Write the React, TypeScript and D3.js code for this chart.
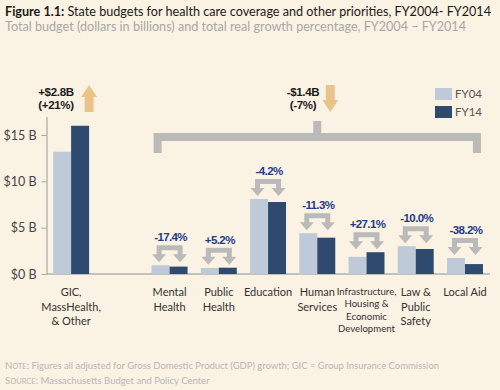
import React, { useEffect, useRef } from 'react';
import * as d3 from 'd3';

const categories = [
  'GIC, MassHealth, & Other',
  'Mental Health',
  'Public Health',
  'Education',
  'Human Services',
  'Infrastructure, Housing & Economic Development',
  'Law & Public Safety',
  'Local Aid',
];
const categoryLines = [
  ['GIC,', 'MassHealth,', '& Other'],
  ['Mental', 'Health'],
  ['Public', 'Health'],
  ['Education'],
  ['Human', 'Services'],
  ['Infrastructure,', 'Housing &', 'Economic', 'Development'],
  ['Law &', 'Public', 'Safety'],
  ['Local Aid'],
];
const series = ['FY04', 'FY14'];
const fy04 = [13.2, 0.95, 0.65, 8.1, 4.4, 1.85, 3.0, 1.73];
const fy14 = [16.0, 0.8, 0.68, 7.77, 3.92, 2.35, 2.7, 1.07];
const growthLabels = ['', '-17.4%', '+5.2%', '-4.2%', '-11.3%', '+27.1%', '-10.0%', '-38.2%'];
const yTicks = [0, 5, 10, 15];
const healthNote = ['+$2.8B', '(+21%)'];
const otherNote = ['-$1.4B', '(-7%)'];

const SPACER = '__gap';

export default function App() {
  const ref = useRef<SVGSVGElement>(null);

  useEffect(() => {
    draw();
  // eslint-disable-next-line react-hooks/exhaustive-deps
  }, []);

  function draw() {
    const svg = d3.select(ref.current);
    svg.selectAll('*').remove();

    const width = 500;
    const height = 390;
    const font = 'Lato, "Open Sans", sans-serif';
    const boldFont = '"Liberation Sans", Arial, sans-serif';
    const c04 = '#bfcad8';
    const c14 = '#2e4a6f';
    const tan = '#eac38a';
    const grey = '#bababa';

    svg.append('rect').attr('width', width).attr('height', height).attr('fill', '#faf2e3');

    const domain = [categories[0], SPACER, ...categories.slice(1)];
    const x = d3.scaleBand()
      .domain(domain)
      .range([46.5, 489.6])
      .paddingInner(0.27)
      .paddingOuter(0.135);
    const x1 = d3.scaleBand().domain(series).range([0, x.bandwidth()]);
    const y = d3.scaleLinear().domain([0, 17]).range([274, 116.5]);
    const cx = (c: string) => x(c)! + x.bandwidth() / 2;

    // title
    const title = svg.append('text')
      .attr('x', 5).attr('y', 16)
      .attr('font-family', font).attr('font-size', 12.6).attr('fill', '#1a1a1a')
      .attr('textLength', 486).attr('lengthAdjust', 'spacingAndGlyphs');
    title.append('tspan').attr('font-weight', 700).text('Figure 1.1:');
    title.append('tspan').text(' State budgets for health care coverage and other priorities, FY2004- FY2014');

    svg.append('text')
      .attr('x', 5).attr('y', 31)
      .attr('font-family', font).attr('font-size', 13).attr('fill', '#a8a8a8')
      .attr('textLength', 461).attr('lengthAdjust', 'spacingAndGlyphs')
      .text('Total budget (dollars in billions) and total real growth percentage, FY2004 \u2013 FY2014');

    // y axis
    const yAxis = svg.append('g')
      .attr('transform', 'translate(46.5,0)')
      .call(d3.axisLeft(y).tickValues(yTicks).tickSize(5).tickSizeOuter(0).tickPadding(5)
        .tickFormat((d) => `$${d} B`));
    yAxis.select('.domain').attr('stroke', '#a9a9a9').attr('stroke-width', 1.2);
    yAxis.selectAll('.tick line').attr('stroke', '#a9a9a9');
    yAxis.selectAll('.tick text')
      .attr('font-family', font).attr('font-size', 12.5).attr('fill', '#444');

    // baseline
    svg.append('line')
      .attr('x1', 46.5).attr('x2', 490)
      .attr('y1', y(0)).attr('y2', y(0))
      .attr('stroke', '#b0b0b0').attr('stroke-width', 1.5);

    // bars
    const rows = categories.map((c, i) => ({ c, values: [fy04[i], fy14[i]] }));
    const groups = svg.selectAll('.barGroup')
      .data(rows)
      .enter()
      .append('g')
      .attr('class', 'barGroup')
      .attr('transform', (d) => `translate(${x(d.c)},0)`);
    groups.selectAll('rect')
      .data((d) => d.values.map((v, j) => ({ s: series[j], v })))
      .enter()
      .append('rect')
      .attr('x', (d) => x1(d.s)!)
      .attr('width', x1.bandwidth())
      .attr('y', (d) => y(d.v))
      .attr('height', (d) => y(0) - y(d.v))
      .attr('fill', (d) => (d.s === 'FY04' ? c04 : c14));

    // growth arrows and labels
    rows.forEach((d, i) => {
      if (!growthLabels[i]) return;
      const m = cx(d.c);
      const y0 = y(Math.max(d.values[0], d.values[1])) - 20;
      const dx = 10.5;
      const p = d3.path();
      p.moveTo(m - dx - 2.5, y0 + 9);
      p.lineTo(m - dx - 2.5, y0);
      p.lineTo(m + dx + 2.5, y0);
      p.lineTo(m + dx + 2.5, y0 + 9);
      p.lineTo(m + dx + 7, y0 + 9);
      p.lineTo(m + dx, y0 + 17);
      p.lineTo(m + dx - 7, y0 + 9);
      p.lineTo(m + dx - 2.5, y0 + 9);
      p.lineTo(m + dx - 2.5, y0 + 5);
      p.lineTo(m - dx + 2.5, y0 + 5);
      p.lineTo(m - dx + 2.5, y0 + 9);
      p.lineTo(m - dx + 7, y0 + 9);
      p.lineTo(m - dx, y0 + 17);
      p.lineTo(m - dx - 7, y0 + 9);
      p.closePath();
      svg.append('path').attr('d', p.toString()).attr('fill', grey);
      svg.append('text')
        .attr('x', m + 1).attr('y', y0 - 4)
        .attr('text-anchor', 'middle')
        .attr('font-family', boldFont).attr('font-weight', 700).attr('font-size', 11.5)
        .attr('letter-spacing', -0.6).attr('fill', '#1f3b8a')
        .text(growthLabels[i]);
    });

    // category labels
    rows.forEach((d, i) => {
      const lines = categoryLines[i];
      const small = lines.length > 3;
      const lh = small ? 12.4 : 14.5;
      const t = svg.append('text')
        .attr('text-anchor', 'middle')
        .attr('font-family', font).attr('font-size', small ? 9.6 : 11)
        .attr('fill', '#333');
      lines.forEach((ln, k) => {
        t.append('tspan').attr('x', cx(d.c)).attr('y', (small ? 295 : 296) + k * lh).text(ln);
      });
    });

    // bracket over the other priorities
    const left = x(categories[1])! + 6;
    const right = x(categories[categories.length - 1])! + x.bandwidth() - 6;
    const by = y(14.8);
    const mid = (left + right) / 2;
    svg.append('path')
      .attr('d', `M${left},${by + 16}V${by}H${right}V${by + 16}M${mid},${by}V${by - 16}`)
      .attr('fill', 'none').attr('stroke', grey).attr('stroke-width', 8);

    // total change arrows
    const upX = x(categories[0])! + x.bandwidth();
    const up = d3.path();
    up.moveTo(upX - 4.5, 112); up.lineTo(upX - 4.5, 97); up.lineTo(upX - 8, 97);
    up.lineTo(upX, 85); up.lineTo(upX + 8, 97); up.lineTo(upX + 4.5, 97); up.lineTo(upX + 4.5, 112);
    up.closePath();
    svg.append('path').attr('d', up.toString()).attr('fill', tan);

    const dnX = mid + 13;
    const dn = d3.path();
    dn.moveTo(dnX - 4.5, 85); dn.lineTo(dnX - 4.5, 100); dn.lineTo(dnX - 8, 100);
    dn.lineTo(dnX, 112); dn.lineTo(dnX + 8, 100); dn.lineTo(dnX + 4.5, 100); dn.lineTo(dnX + 4.5, 85);
    dn.closePath();
    svg.append('path').attr('d', dn.toString()).attr('fill', tan);

    const note = (lines: string[], nx: number) => {
      const t = svg.append('text')
        .attr('text-anchor', 'middle')
        .attr('font-family', boldFont).attr('font-weight', 700).attr('font-size', 11.5)
        .attr('letter-spacing', -0.3).attr('fill', '#1a1a1a');
      lines.forEach((ln, k) => t.append('tspan').attr('x', nx).attr('y', 96 + k * 13).text(ln));
    };
    note(healthNote, 56);
    note(otherNote, 303);

    // legend
    const lg = svg.append('g').attr('transform', 'translate(435,88)');
    series.forEach((s, i) => {
      lg.append('rect').attr('x', 0).attr('y', i * 18).attr('width', 17).attr('height', 12)
        .attr('fill', i === 0 ? c04 : c14);
      lg.append('text').attr('x', 20).attr('y', i * 18 + 10)
        .attr('font-family', font).attr('font-size', 11.5).attr('fill', '#555')
        .text(s);
    });

    // footnotes
    const n1 = svg.append('text')
      .attr('x', 5).attr('y', 369)
      .attr('font-family', font).attr('font-size', 9.5).attr('fill', '#b8b8b8')
      .attr('textLength', 434).attr('lengthAdjust', 'spacingAndGlyphs');
    n1.append('tspan').text('N');
    n1.append('tspan').attr('font-size', 7.5).text('OTE');
    n1.append('tspan').text(': Figures all adjusted for Gross Domestic Product (GDP) growth; GIC = Group Insurance Commission');
    const n2 = svg.append('text')
      .attr('x', 5).attr('y', 384)
      .attr('font-family', font).attr('font-size', 9.5).attr('fill', '#b8b8b8');
    n2.append('tspan').text('S');
    n2.append('tspan').attr('font-size', 7.5).text('OURCE');
    n2.append('tspan').text(': Massachusetts Budget and Policy Center');
  }

  return (
    <svg
      ref={ref}
      width={500}
      height={390}
      style={{ position: 'absolute', left: 0, top: 0, display: 'block' }}
    />
  );
}
